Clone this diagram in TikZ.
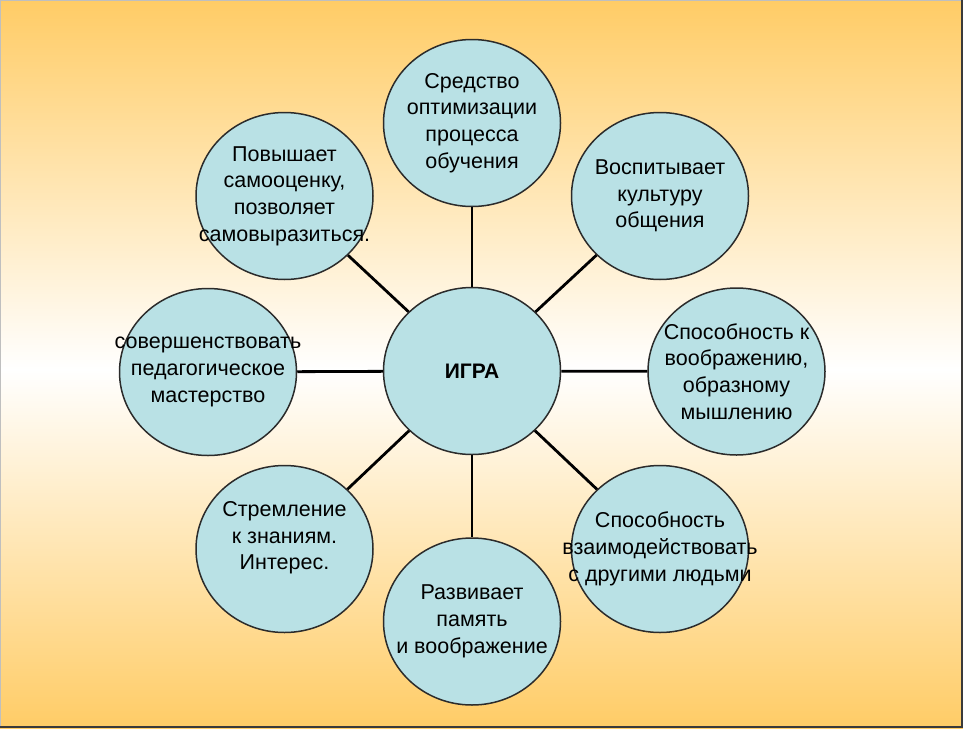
\documentclass[tikz,border=0pt]{standalone}
\usepackage{fontspec}
\setmainfont{Liberation Sans}
\usepackage{tikz}
\usetikzlibrary{shapes.geometric}
\definecolor{bgorange}{HTML}{FFCC66}
\definecolor{bubblefill}{HTML}{B9E1E5}
\definecolor{bubbleline}{HTML}{2B2B2B}
\definecolor{frameshadow}{HTML}{3A3A3A}

\begin{document}
\begin{tikzpicture}[x=1pt, y=-1pt,
    bubble/.style={ellipse, draw=bubbleline, line width=1.5pt, fill=bubblefill,
        minimum width=177pt, minimum height=167pt, inner xsep=-60pt, inner ysep=-20pt,
        align=center, font=\fontsize{21.5}{26.7}\selectfont},
    spoke/.style={line width=2.8pt, black}]

    % Slide background
    \useasboundingbox (0,0) rectangle (963,728);
    \shade[top color=bgorange, bottom color=white] (0,0) rectangle (963,370);
    \shade[top color=white, bottom color=bgorange] (0,369) rectangle (963,728);
    \draw[gray!50, line width=0.8pt] (0.4,728) -- (0.4,0.4) -- (963,0.4);
    \draw[frameshadow, line width=2pt] (962,0) -- (962,727) -- (0,727);

    % Centre
    \node[bubble, font=\fontsize{21}{26.5}\selectfont\bfseries] (igra) at (472,371) {ИГРА};

    % Outer ring, clockwise from the top
    \node[bubble] (sredstvo) at (472,123) {Средство\\ оптимизации\\ процесса\\ обучения};
    \node[bubble] (vospit) at (660,196) {Воспитывает\\ культуру\\ общения};
    \node[bubble] (voobraz) at (736.5,371.5) {Способность к\\ воображению,\\ образному\\ мышлению};
    \node[bubble] (vzaimod) at (660,549) {Способность\\ взаимодействовать\\ с другими людьми};
    \node[bubble] (pamyat) at (472,621.5) {Развивает\\ память\\ и воображение};
    \node[bubble] (stremlen) at (284.5,549) {Стремление\\ к знаниям.\\ Интерес.\\ \mbox{}};
    \node[bubble] (masterstvo) at (208,372) {совершенствовать\\ педагогическое\\ мастерство};
    \node[bubble] (samoocenka) at (284.5,196) {Повышает\\ самооценку,\\ позволяет\\ самовыразиться.};

    % Spokes
    \foreach \n in {sredstvo, vospit, voobraz, vzaimod, pamyat, stremlen, masterstvo, samoocenka}
        \draw[spoke] (igra) -- (\n);
\end{tikzpicture}
\end{document}
